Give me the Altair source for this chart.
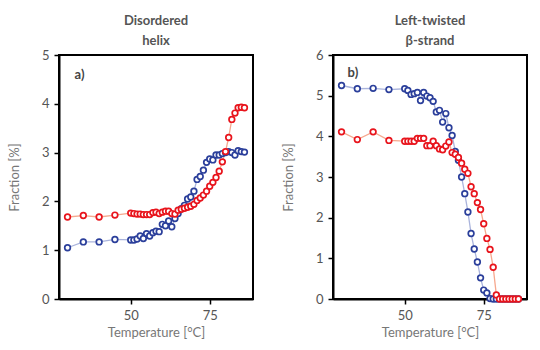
import altair as alt
import pandas as pd

temps = [30, 35, 40, 45,
         50, 51, 52, 53, 54, 55, 56, 57, 58, 59,
         60, 61, 62, 63, 64, 65, 66, 67, 68, 69,
         70, 71, 72, 73, 74, 75, 76, 77, 78, 79,
         80, 81, 82, 83, 84, 85, 86]

helix_blue = [1.05, 1.17, 1.17, 1.22,
              1.21, 1.21, 1.23, 1.29, 1.24, 1.34, 1.29, 1.36, 1.39, 1.38,
              1.53, 1.50, 1.60, 1.48, 1.65, 1.75, 1.85, 1.92, 2.05, 2.09,
              2.21, 2.45, 2.51, 2.64, 2.80, 2.87, 2.85, 2.95, 2.95, 2.98,
              3.00, 3.02, 3.00, 2.95, 3.04, 3.02, 3.01]
helix_red = [1.68, 1.71, 1.68, 1.72,
             1.76, 1.75, 1.74, 1.74, 1.73, 1.73, 1.73, 1.77, 1.78, 1.75,
             1.78, 1.80, 1.80, 1.75, 1.74, 1.82, 1.84, 1.86, 1.88, 1.90,
             1.94, 2.02, 2.07, 2.13, 2.21, 2.31, 2.39, 2.49, 2.62, 2.81,
             3.02, 3.31, 3.68, 3.81, 3.92, 3.93, 3.92]
strand_blue = [5.25, 5.17, 5.18, 5.15,
               5.17, 5.13, 5.03, 5.05, 5.08, 4.88, 5.08, 4.99, 4.95, 4.86,
               4.60, 4.64, 4.35, 4.56, 4.21, 4.02, 3.63, 3.41, 3.00, 2.59,
               2.14, 1.61, 1.23, 0.91, 0.52, 0.22, 0.15, 0.01, 0.0, 0.0,
               0.0, 0.0, 0.0, 0.0, 0.0, 0.0, 0.0]
strand_red = [4.11, 3.92, 4.11, 3.90,
              3.88, 3.88, 3.88, 3.88, 3.95, 3.95, 3.95, 3.77, 3.77, 3.88,
              3.77, 3.69, 3.67, 3.76, 3.86, 3.60, 3.56, 3.48, 3.34, 3.19,
              3.09, 2.76, 2.59, 2.37, 2.20, 1.85, 1.49, 1.22, 0.78, 0.10,
              0.0, 0.0, 0.0, 0.0, 0.0, 0.0, 0.0]

panel_titles = [["Disordered", "helix"], ["Left-twisted", "β-strand"]]
panel_labels = ["a)", "b)"]
label_pos = [(33.8, 4.6), (33.6, 5.55)]
y_max = [5, 6]

FONT = "Lato"
BLUE = "#2b3f9b"
RED = "#e8141c"
BLUE_LINE = "#aab4dc"
RED_LINE = "#f6a88e"


def make_df(blue, red):
    rows = []
    for t, v in zip(temps, blue):
        rows.append({"T": t, "v": v, "s": "blue"})
    for t, v in zip(temps, red):
        rows.append({"T": t, "v": v, "s": "red"})
    return pd.DataFrame(rows)


def panel(blue, red, title, ymax, label, lpos):
    df = make_df(blue, red)
    x = alt.X("T:Q", scale=alt.Scale(domain=[27.3, 88.7], nice=False, zero=False),
              axis=alt.Axis(values=[50, 75], title="Temperature [°C]"))
    y = alt.Y("v:Q", scale=alt.Scale(domain=[0, ymax], nice=False),
              axis=alt.Axis(values=list(range(ymax + 1)), title="Fraction [%]"))
    base = alt.Chart(df).encode(x=x, y=y)
    lb = base.transform_filter("datum.s == 'blue'").mark_line(color=BLUE_LINE, strokeWidth=1.3)
    lr = base.transform_filter("datum.s == 'red'").mark_line(color=RED_LINE, strokeWidth=1.3)
    pb = base.transform_filter("datum.s == 'blue'").mark_point(
        shape="circle", filled=False, fill="white", fillOpacity=1, color=BLUE,
        strokeWidth=1.7, size=32, opacity=1)
    pr = base.transform_filter("datum.s == 'red'").mark_point(
        shape="circle", filled=False, fill="white", fillOpacity=1, color=RED,
        strokeWidth=1.7, size=32, opacity=1)
    lab_df = pd.DataFrame([{"T": lpos[0], "v": lpos[1], "t": label}])
    txt = alt.Chart(lab_df).mark_text(font=FONT, fontSize=13, fontWeight="bold",
                                      color="#444", align="center", baseline="middle").encode(
        x="T:Q", y="v:Q", text="t:N")
    return alt.layer(lb, lr, pb, pr, txt).properties(
        width=194, height=244,
        title=alt.TitleParams(title, font=FONT, fontSize=13, fontWeight="bold",
                              color="#555", lineHeight=20, offset=1, anchor="middle"))


left = panel(helix_blue, helix_red, panel_titles[0], y_max[0], panel_labels[0], label_pos[0])
right = panel(strand_blue, strand_red, panel_titles[1], y_max[1], panel_labels[1], label_pos[1])

chart = alt.hconcat(left, right, spacing=80, bounds="flush").properties(
    padding={"left": 7, "top": 14, "right": 5, "bottom": 5}
).configure_view(stroke="black", strokeWidth=2).configure_axis(
    grid=False, domainColor="black", domainWidth=2, tickColor="black", tickWidth=1.5,
    tickSize=5, labelFont=FONT, labelFontSize=13, labelColor="#555", labelPadding=5,
    titleFont=FONT, titleFontSize=13, titleFontWeight="normal", titleColor="#777",
    titlePadding=8
).configure_axisY(titlePadding=20).configure_axisX(labelPadding=5, titlePadding=4)

chart.save("out.html", embed_options={"renderer": "svg", "actions": False})
